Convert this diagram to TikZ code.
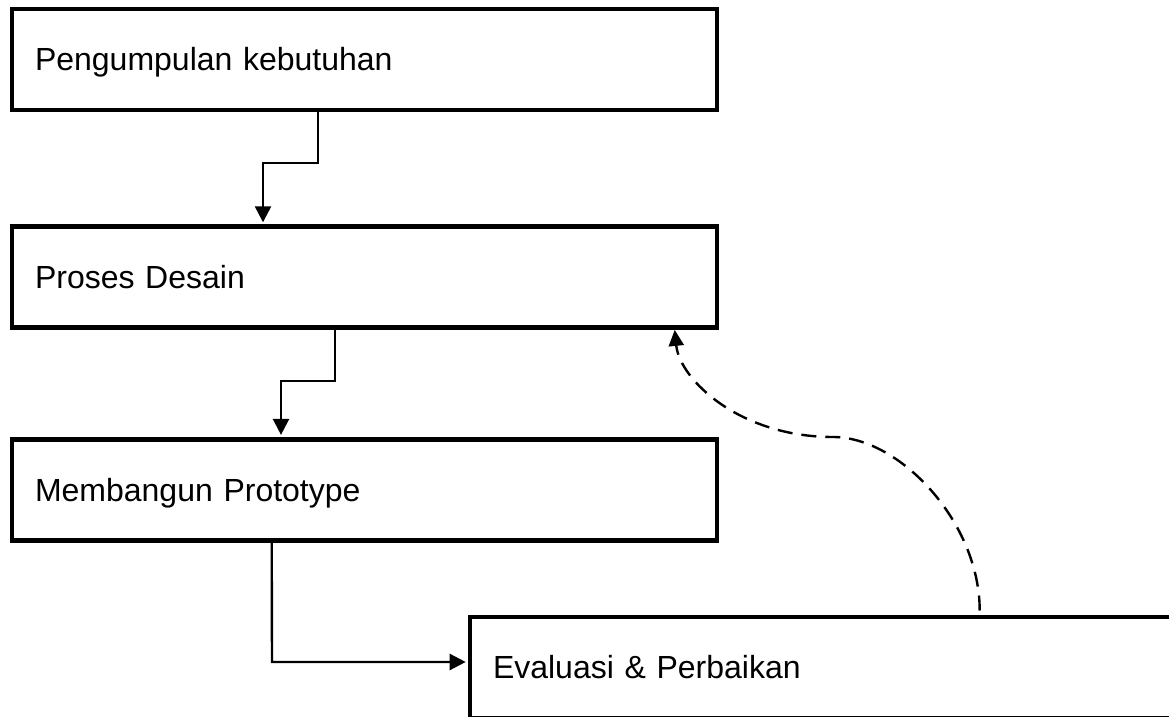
\documentclass[tikz,border=0pt]{standalone}
\usepackage{fontspec}
\setmainfont{Liberation Sans}
\usetikzlibrary{positioning,arrows.meta}

\begin{document}
\begin{tikzpicture}[x=0.5pt, y=-0.5pt,
    tahap/.style={draw, line width=2.3pt, rectangle, minimum width=352.5pt, minimum height=50.5pt,
        text width=329.5pt, inner xsep=11.5pt, align=left, text height=12pt, text depth=0.5pt,
        font=\fontsize{16}{19}\selectfont},
    panah/.style={line width=1.2pt, -{Triangle[length=8pt,width=8pt]}, shorten >=1pt},
    balikan/.style={line width=1.2pt, dash pattern=on 7.5pt off 4.5pt, shorten <=2pt,
        -{Triangle[length=8pt,width=7.5pt]}}]
    \clip (0,0) rectangle (1169,717);
    \node[tahap] (kebutuhan) at (364.5,59.5) {Pengumpulan kebutuhan};
    \node[tahap, below=56pt of kebutuhan] (desain) {Proses Desain};
    \node[tahap, below=53.5pt of desain] (prototype) {Membangun Prototype};
    \node[tahap, anchor=north west] (evaluasi) at ([xshift=229pt, yshift=-36pt]prototype.south west) {Evaluasi \& Perbaikan};
    \coordinate (b1) at (263,163);
    \coordinate (b2) at (281,381);
    \coordinate (b3) at (272,662);
    \coordinate (lengkung) at (833,437);
    \draw[panah] ([xshift=154pt]kebutuhan.south west) |- (b1) -- (b1 |- desain.north);
    \draw[panah] ([xshift=162.5pt]desain.south west) |- (b2) -- (b2 |- prototype.north);
    \draw[panah] ([xshift=131pt]prototype.south west) -- (b3) -- (b3 -| evaluasi.west);
    \draw[balikan] ([xshift=256pt]evaluasi.north west) .. controls +(0,-92) and +(67,0) .. (lengkung)
        .. controls +(-93,0) and +(5,50) .. ([xshift=332.5pt]desain.south west);
\end{tikzpicture}
\end{document}
